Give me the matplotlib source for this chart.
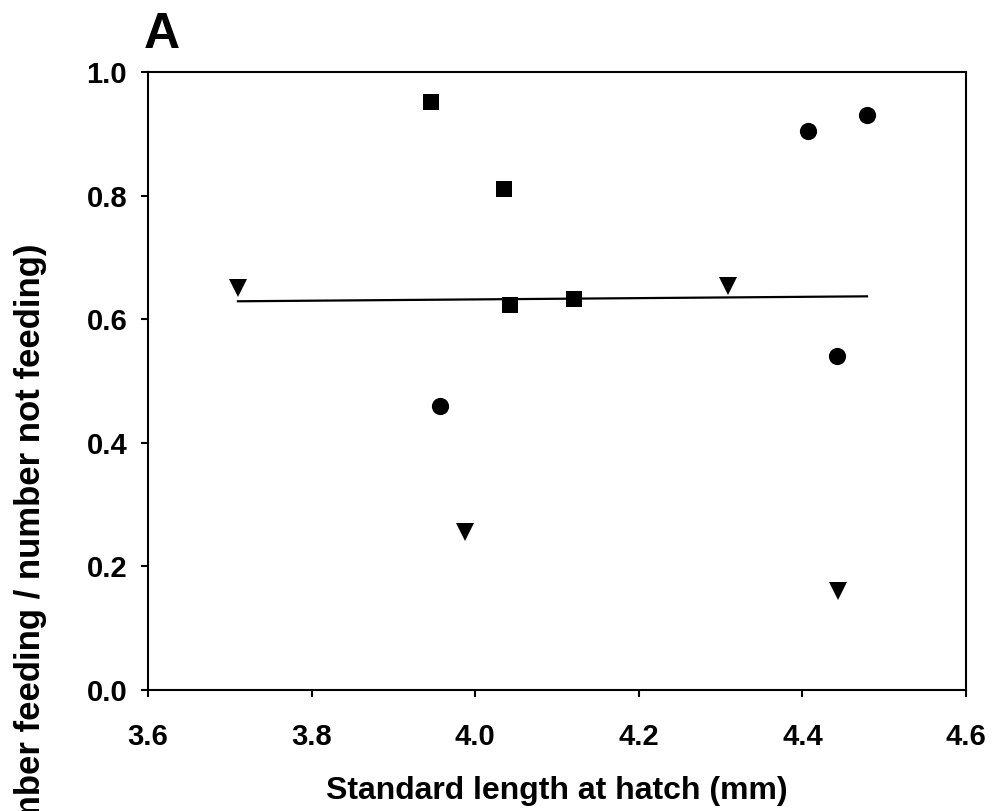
import matplotlib
matplotlib.use("Agg")
import matplotlib.pyplot as plt

# ---- data ----
square_x = [3.946, 4.035, 4.042, 4.121]
square_y = [0.952, 0.811, 0.623, 0.632]

circle_x = [4.407, 4.479, 4.442, 3.957]
circle_y = [0.905, 0.930, 0.541, 0.459]

triangle_x = [3.710, 3.988, 4.309, 4.443]
triangle_y = [0.650, 0.256, 0.654, 0.160]

fit_x = [3.710, 4.479]
fit_y = [0.629, 0.637]

x_ticks = [3.6, 3.8, 4.0, 4.2, 4.4, 4.6]
y_ticks = [0.0, 0.2, 0.4, 0.6, 0.8, 1.0]

plt.rcParams['font.family'] = ['Liberation Sans', 'DejaVu Sans']
plt.rcParams['font.weight'] = 'bold'

W, H = 996, 811
fig = plt.figure(figsize=(W / 100, H / 100), dpi=100)
L, R, T, B = 148, 966, 72, 690
ax = fig.add_axes([L / W, 1 - B / H, (R - L) / W, (B - T) / H])

ax.plot(fit_x, fit_y, color='black', lw=1.6, zorder=2)
ax.plot(square_x, square_y, ls='none', marker='s', ms=11, color='black', mew=0, zorder=3)
ax.plot(circle_x, circle_y, ls='none', marker='o', ms=12.4, color='black', mew=0, zorder=3)
ax.plot(triangle_x, triangle_y, ls='none', marker='v', ms=12.4, color='black', mew=0, zorder=3)

ax.set_xlim(3.6, 4.6)
ax.set_ylim(0.0, 1.0)
ax.set_xticks(x_ticks)
ax.set_yticks(y_ticks)
ax.set_xticklabels([f"{v:.1f}" for v in x_ticks])
ax.set_yticklabels([f"{v:.1f}" for v in y_ticks])

for s in ax.spines.values():
    s.set_linewidth(1.5)
ax.tick_params(axis='both', direction='out', length=5, width=1.5, labelsize=21)
ax.tick_params(axis='x', pad=19)
ax.tick_params(axis='y', pad=10)
for lab in ax.get_xticklabels() + ax.get_yticklabels():
    lab.set_fontweight('bold')

ax.set_xlabel("Standard length at hatch (mm)", fontsize=23, fontweight='bold', labelpad=18)

fig.text(31 / W, 1 - 243 / H, "(Number feeding / number not feeding)", rotation=90,
         ha='center', va='top', fontsize=25, fontweight='bold')

fig.text(144 / W, 1 - 48 / H, "A", ha='left', va='baseline', fontsize=36, fontweight='bold')

fig.savefig("out.png", dpi=100)
